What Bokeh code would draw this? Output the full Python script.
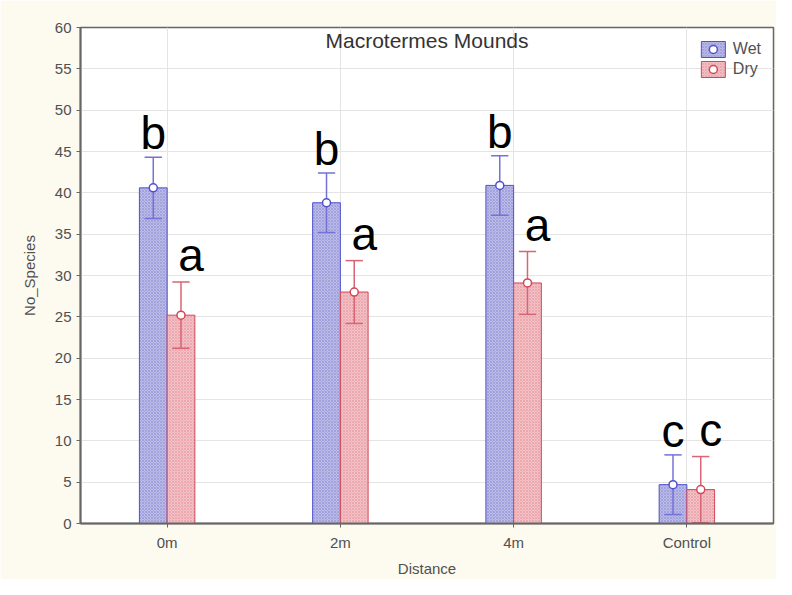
from bokeh.plotting import figure
from bokeh.models import (ColumnDataSource, FactorRange, FixedTicker, Label, Legend, LegendItem)
from bokeh.transform import dodge
from bokeh.core.properties import value
from bokeh.embed import file_html
from bokeh.resources import INLINE

# ---------------- data ----------------
categories = ["0m", "2m", "4m", "Control"]
wet_mean = [40.6, 38.8, 40.9, 4.7]
wet_err = [3.7, 3.6, 3.6, 3.6]
dry_mean = [25.2, 28.0, 29.1, 4.1]
dry_err = [4.0, 3.8, 3.8, 4.0]
wet_letters = ["b", "b", "b", "c"]
dry_letters = ["a", "a", "a", "c"]
y_ticks = [0, 5, 10, 15, 20, 25, 30, 35, 40, 45, 50, 55, 60]

title_text = "Macrotermes Mounds"
x_label = "Distance"
y_label = "No_Species"

FONT = "Liberation Sans"
BG = "#FDFAF0"

def make_src(means, errs, letters):
    return ColumnDataSource(dict(
        cat=categories,
        mean=means,
        upper=[m + e for m, e in zip(means, errs)],
        lower=[m - e for m, e in zip(means, errs)],
        letter=letters,
    ))

wet_src = make_src(wet_mean, wet_err, wet_letters)
dry_src = make_src(dry_mean, dry_err, dry_letters)

p = figure(
    width=776, height=579,
    x_range=FactorRange(*categories, range_padding=0),
    y_range=(0, 60),
    output_backend="svg", toolbar_location=None,
    background_fill_color="white", border_fill_color=BG,
    min_border_left=80, min_border_right=3, min_border_top=27, min_border_bottom=53,
)
p.outline_line_color = "#666666"
p.outline_line_width = 1.5

# grid
p.xgrid.grid_line_color = "#E4E4E4"
p.ygrid.grid_line_color = "#E4E4E4"
p.ygrid.ticker = FixedTicker(ticks=y_ticks)

# axes
p.yaxis.ticker = FixedTicker(ticks=y_ticks)
for ax in (p.xaxis[0], p.yaxis[0]):
    ax.axis_line_color = "#666666"
    ax.axis_line_width = 2
    ax.major_tick_line_color = "#666666"
    ax.major_tick_in = 0
    ax.major_tick_out = 4
    ax.minor_tick_line_color = None
    ax.major_label_text_font = FONT
    ax.major_label_text_font_size = "15px"
    ax.major_label_text_color = "#505050"
    ax.axis_label_text_font = FONT
    ax.axis_label_text_font_size = "15px"
    ax.axis_label_text_font_style = "normal"
    ax.axis_label_text_color = "#505050"
p.yaxis.axis_label = y_label
p.xaxis.axis_label = x_label
p.yaxis.major_label_standoff = 5
p.yaxis.axis_label_standoff = 14
p.xaxis.major_label_standoff = 6
p.xaxis.axis_label_standoff = 6

BW = 0.16
OFF = 0.08
CAP = 0.05

wet_line = "#5050CC"
dry_line = "#D04858"
wet_err_col = "#7272D8"
dry_err_col = "#D86474"

wet_bar = p.vbar(x=dodge("cat", -OFF, range=p.x_range), top="mean", width=BW, source=wet_src,
                 fill_color="#BCBCE6", line_color=wet_line, line_width=1,
                 hatch_pattern="diagonal_cross", hatch_scale=3, hatch_color="#7070D0",
                 hatch_weight=0.6, hatch_alpha=0.6)
dry_bar = p.vbar(x=dodge("cat", OFF, range=p.x_range), top="mean", width=BW, source=dry_src,
                 fill_color="#F2C4C8", line_color=dry_line, line_width=1,
                 hatch_pattern="diagonal_cross", hatch_scale=3, hatch_color="#E07080",
                 hatch_weight=0.6, hatch_alpha=0.6)

# error bars (stem + caps), drawn above bars
for src, off, col in ((wet_src, -OFF, wet_err_col), (dry_src, OFF, dry_err_col)):
    p.segment(x0=dodge("cat", off, range=p.x_range), x1=dodge("cat", off, range=p.x_range),
              y0="lower", y1="upper", source=src, line_color=col, line_width=1.5)
    for end in ("upper", "lower"):
        p.segment(x0=dodge("cat", off - CAP, range=p.x_range),
                  x1=dodge("cat", off + CAP, range=p.x_range),
                  y0=end, y1=end, source=src, line_color=col, line_width=1.5)

wet_pt = p.scatter(x=dodge("cat", -OFF, range=p.x_range), y="mean", source=wet_src, marker="circle",
                   size=8, fill_color="white", line_color=wet_line, line_width=1.5)
dry_pt = p.scatter(x=dodge("cat", OFF, range=p.x_range), y="mean", source=dry_src, marker="circle",
                   size=8, fill_color="white", line_color=dry_line, line_width=1.5)

# significance letters
p.text(x=dodge("cat", -OFF, range=p.x_range), y="upper", text="letter", source=wet_src,
       text_font=value(FONT), text_font_size="46px", text_color="black",
       text_align="center", text_baseline="alphabetic", y_offset=-24)
p.text(x=dodge("cat", OFF, range=p.x_range), y="upper", text="letter", source=dry_src,
       text_font=value(FONT), text_font_size="46px", text_color="black",
       text_align="center", text_baseline="alphabetic", y_offset=-27, x_offset=10)

# title inside plot
p.add_layout(Label(x=2, y=58.4, text=title_text, text_font=FONT, text_font_size="21px",
                   text_color="#333333", text_align="center", text_baseline="alphabetic"))

legend = Legend(items=[LegendItem(label="Wet", renderers=[wet_bar, wet_pt]),
                       LegendItem(label="Dry", renderers=[dry_bar, dry_pt])],
                location="top_right", glyph_width=30, glyph_height=20, spacing=0,
                padding=0, margin=12, label_standoff=5, label_text_font=FONT,
                label_text_font_size="16px", label_text_color="#505050",
                border_line_color=None, background_fill_alpha=0,
                label_height=20)
p.add_layout(legend)

open("out.html", "w").write(file_html(p, INLINE))
